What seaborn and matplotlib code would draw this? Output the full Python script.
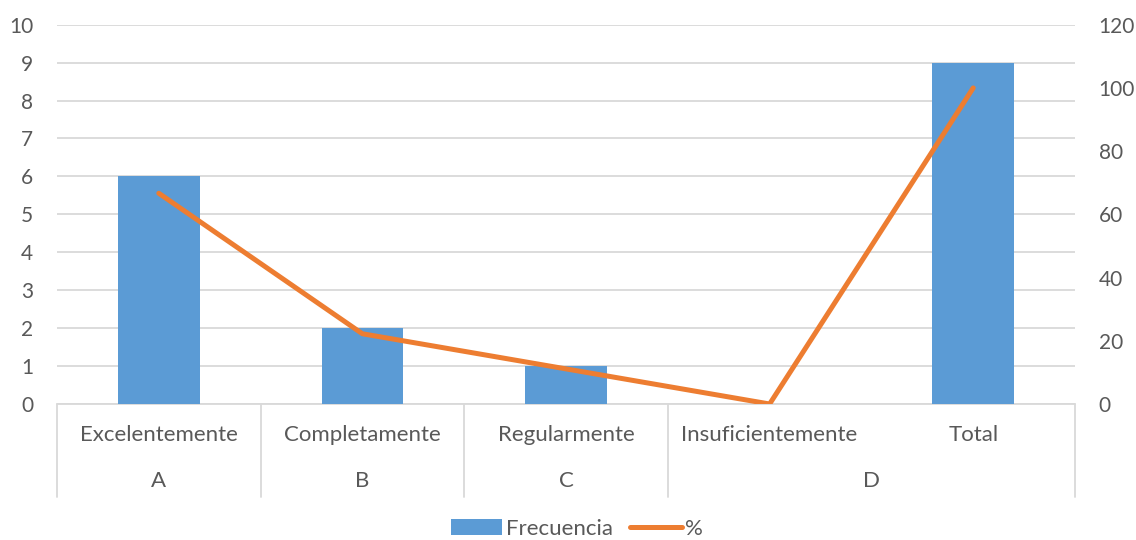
import numpy as np
import matplotlib
matplotlib.use("Agg")
import matplotlib.pyplot as plt
import matplotlib.transforms as mtransforms
from matplotlib.patches import Patch
from matplotlib.lines import Line2D
import seaborn as sns

categories = ["Excelentemente", "Completamente", "Regularmente", "Insuficientemente", "Total"]
groups = ["A", "B", "C", "D"]
group_spans = [(0, 0), (1, 1), (2, 2), (3, 4)]
frecuencia = [6, 2, 1, 0, 9]
porcentaje = [66.67, 22.22, 11.11, 0, 100]
left_ticks = list(range(0, 11))
right_ticks = [0, 20, 40, 60, 80, 100, 120]

sns.set_theme(style="white")
plt.rcParams["font.family"] = ["Lato", "DejaVu Sans"]
TXT = "#595959"
GRID = "#D9D9D9"
BLUE = "#5B9BD5"
ORANGE = "#ED7D31"
FS = 15
FS_CAT = 16

fig = plt.figure(figsize=(11.36, 5.4), dpi=100)
ax = fig.add_axes([57/1136, 1-404/540, (1075-57)/1136, (404-24.7)/540])

sns.barplot(x=categories, y=frecuencia, ax=ax, color=BLUE, width=0.4, saturation=1,
            edgecolor="none", zorder=3)
ax.set_xlim(-0.5, len(categories) - 0.5)
ax.set_ylim(0, 10)
ax.set_yticks(left_ticks)
ax.yaxis.grid(True, color=GRID, linewidth=1.3, zorder=0)
ax.set_axisbelow(True)
ax.set_xticks([])
ax.set_xlabel("")
ax.set_ylabel("")
for s in ax.spines.values():
    s.set_visible(False)
ax.tick_params(axis="y", length=0, pad=17, labelsize=FS, labelcolor=TXT)

ax2 = ax.twinx()
sns.lineplot(x=np.arange(len(categories)), y=porcentaje, ax=ax2, color=ORANGE, linewidth=3.6,
             solid_capstyle="round", zorder=4)
ax2.set_ylim(0, 120)
ax2.set_yticks(right_ticks)
ax2.set_ylabel("")
for s in ax2.spines.values():
    s.set_visible(False)
ax2.tick_params(axis="y", length=0, pad=17, labelsize=FS, labelcolor=TXT)
ax2.grid(False)

trans = mtransforms.blended_transform_factory(ax.transData, ax.transAxes)
ax.plot([-0.5, len(categories) - 0.5], [0, 0], transform=trans, color=GRID, linewidth=1.3, clip_on=False, zorder=2)
bounds = [-0.5] + [end + 0.5 for (_, end) in group_spans]
for b in bounds:
    ax.plot([b, b], [0, -0.245], transform=trans, color=GRID, linewidth=1.3, clip_on=False)
for i, c in enumerate(categories):
    ax.text(i, -0.0816, c, transform=trans, ha="center", va="center", fontsize=FS_CAT, color=TXT)
for g, (s, e) in zip(groups, group_spans):
    ax.text((s + e) / 2, -0.2026, g, transform=trans, ha="center", va="center", fontsize=FS_CAT, color=TXT)

handles = [Patch(facecolor=BLUE, edgecolor="none"),
           Line2D([0], [0], color=ORANGE, linewidth=3.6, solid_capstyle="round")]
leg = fig.legend(handles, ["Frecuencia", "%"], loc="center", bbox_to_anchor=(577/1136, 1-529/540),
                 ncol=2, frameon=False, fontsize=FS_CAT, handlelength=2.3, handleheight=0.7,
                 handletextpad=0.15, columnspacing=0.8, labelcolor=TXT, borderpad=0.2)

fig.savefig("out.png", dpi=100)
